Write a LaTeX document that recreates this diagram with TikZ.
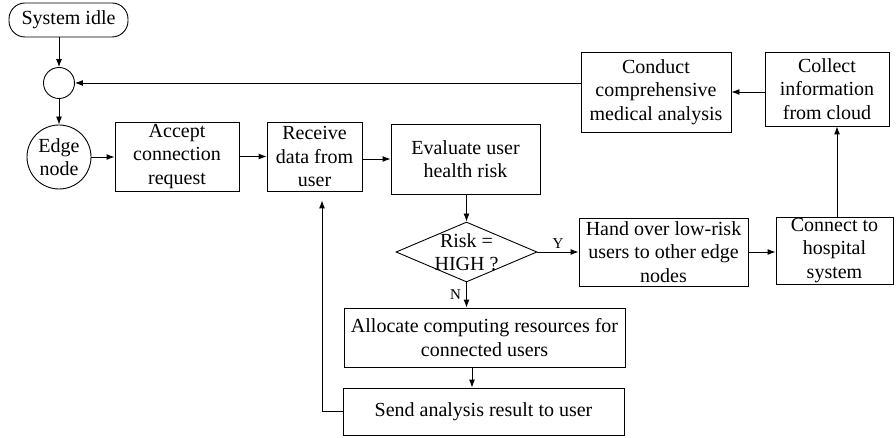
\documentclass[tikz,border=0pt]{standalone}
\usepackage{fontspec}
\setmainfont{Liberation Serif}
\usetikzlibrary{shapes.geometric,arrows.meta}
\begin{document}
\begin{tikzpicture}[x=1pt,y=-1pt,
  every node/.style={font=\fontsize{20}{23.5}\selectfont, align=center, inner sep=0pt},
  box/.style={draw, line width=0.9pt, rectangle},
  lbl/.style={font=\fontsize{15}{17}\selectfont},
  arr/.style={-{Latex[length=8pt,width=6pt]}, line width=0.9pt}]
\useasboundingbox (0,0) rectangle (896,438);
\fill[white] (0,0) rectangle (896,438);
% nodes
\node[box, rounded corners=16pt, minimum width=119, minimum height=34] (idle) at (68.5,20) {System idle};
\node[draw, line width=0.9pt, circle, minimum size=31] (junc) at (59,83) {};
\node[draw, line width=0.9pt, circle, minimum size=64] (edge) at (59,157) {Edge\\node};
\node[box, minimum width=124, minimum height=69] (accept) at (177,156.5) {Accept\\connection\\request};
\node[box, minimum width=95, minimum height=69] (receive) at (314.5,156.5) {Receive\\data from\\user};
\node[box, minimum width=149, minimum height=70] (evaluate) at (465.5,159) {Evaluate user\\health risk};
\node[draw, line width=0.9pt, diamond, minimum width=141, minimum height=60] (dec) at (466.5,252) {};
\node (dect) at (466.5,252) {Risk =\\HIGH ?};
\node[box, minimum width=169, minimum height=68] (handover) at (663.5,252) {Hand over low-risk\\users to other edge\\nodes};
\node[box, minimum width=117, minimum height=67] (hospital) at (834.5,250.5) {Connect to\\hospital\\system};
\node[box, minimum width=124, minimum height=74] (collect) at (827,89) {Collect\\information\\from cloud};
\node[box, minimum width=150, minimum height=80] (conduct) at (656,92) {Conduct\\comprehensive\\medical analysis};
\node[box, minimum width=281, minimum height=59] (allocate) at (484.5,337.5) {Allocate computing resources for\\connected users};
\node[box, minimum width=281, minimum height=47] (send) at (483.5,411.5) {Send analysis result to user};
% connectors
\draw[arr] (idle.south -| junc) -- (junc);
\draw[arr] (junc) -- (edge);
\draw[arr] (edge.east) -- (edge.east -| accept.west);
\draw[arr] (accept) -- (receive);
\draw[arr] (evaluate.west -| receive.east) -- (evaluate.west);
\draw[arr] (evaluate.south -| dec) -- (dec.north);
\draw[arr] (dec.east) -- (handover.west) node[lbl, midway, above=3pt] {Y};
\draw[arr] (dec.south) -- (dec.south |- allocate.north) node[lbl, midway, left=5pt] {N};
\draw[arr] (handover.east) -- (handover.east -| hospital.west);
\draw[arr] ([xshift=2.5pt]hospital.north) -- ([xshift=2.5pt]hospital.north |- collect.south);
\draw[arr] (conduct.east -| collect.west) -- (conduct.east);
\draw[arr] (conduct.west |- junc) -- (junc);
\draw[arr] ([xshift=-12.5pt]allocate.south) -- ([xshift=-12.5pt]allocate.south |- send.north);
\draw[arr] (send.west) -| ([xshift=7.5pt,yshift=-9pt]receive.south);
\end{tikzpicture}
\end{document}
